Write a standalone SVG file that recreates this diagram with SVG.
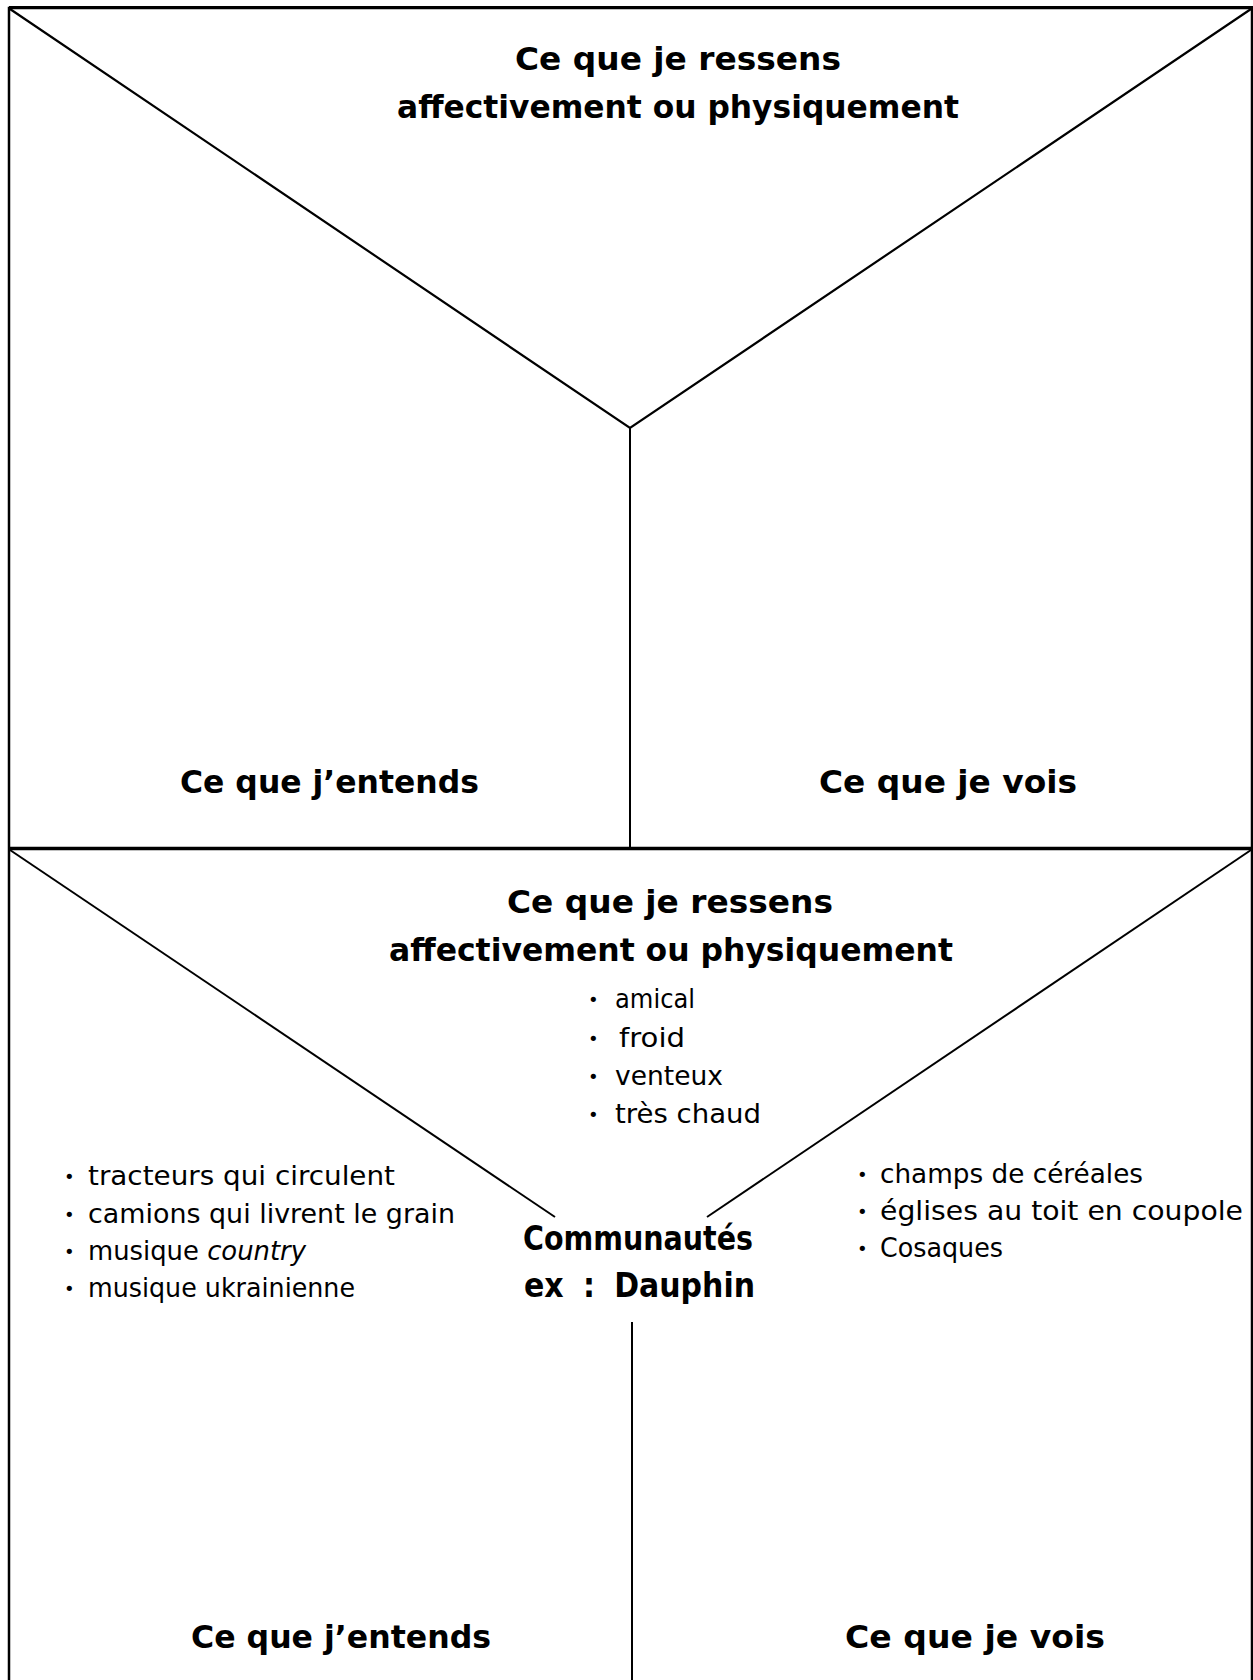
<svg xmlns="http://www.w3.org/2000/svg" width="1253" height="1680" viewBox="0 0 1253 1680">
<style>
.ln{stroke:#000;fill:none;stroke-linecap:butt}
.h{font-family:"DejaVu Sans",sans-serif;font-weight:bold;font-size:32px;fill:#000}
.c{font-family:"DejaVu Sans",sans-serif;font-weight:bold;font-size:34px;fill:#000}
.t{font-family:"DejaVu Sans",sans-serif;font-size:27px;fill:#000}
.b{font-family:"DejaVu Sans",sans-serif;font-size:18px;fill:#000}
</style>
<rect width="1253" height="1680" fill="#fff"/>
<g id="connectors">
<path class="ln" d="M9,1680 V8 H1252 V1680" stroke-width="2.5"/>
<line class="ln" x1="9" y1="7.5" x2="1253" y2="7.5" stroke-width="3"/>
<polyline class="ln" points="10,9 630,428 1251,9" stroke-width="2.2"/>
<line class="ln" x1="630" y1="428" x2="630" y2="847" stroke-width="2"/>
<line class="ln" x1="8" y1="848.5" x2="1253" y2="848.5" stroke-width="3.5"/>
<line class="ln" x1="10" y1="850" x2="555" y2="1217" stroke-width="2"/>
<line class="ln" x1="707" y1="1217" x2="1251" y2="850" stroke-width="2"/>
<line class="ln" x1="632" y1="1322" x2="632" y2="1680" stroke-width="2"/>
</g>
<g id="top-feel">
<text class="h" x="515" y="70" textLength="326" lengthAdjust="spacingAndGlyphs">Ce que je ressens</text>
<text class="h" x="397" y="118" textLength="562" lengthAdjust="spacingAndGlyphs">affectivement ou physiquement</text>
</g>
<g id="top-hear">
<text class="h" x="180" y="793" textLength="299" lengthAdjust="spacingAndGlyphs">Ce que j’entends</text>
</g>
<g id="top-see">
<text class="h" x="819" y="793" textLength="258" lengthAdjust="spacingAndGlyphs">Ce que je vois</text>
</g>
<g id="bottom-feel">
<text class="h" x="507" y="913" textLength="326" lengthAdjust="spacingAndGlyphs">Ce que je ressens</text>
<text class="h" x="389" y="961" textLength="564" lengthAdjust="spacingAndGlyphs">affectivement ou physiquement</text>
<text class="b" x="588" y="1006">•</text>
<text class="t" x="615" y="1008" textLength="80" lengthAdjust="spacingAndGlyphs">amical</text>
<text class="b" x="588" y="1045">•</text>
<text class="t" x="619" y="1047" textLength="66" lengthAdjust="spacingAndGlyphs">froid</text>
<text class="b" x="588" y="1083">•</text>
<text class="t" x="615" y="1085" textLength="108" lengthAdjust="spacingAndGlyphs">venteux</text>
<text class="b" x="588" y="1121">•</text>
<text class="t" x="615" y="1123" textLength="146" lengthAdjust="spacingAndGlyphs">très chaud</text>
</g>
<g id="center">
<text class="c" x="523" y="1250" textLength="230" lengthAdjust="spacingAndGlyphs">Communautés</text>
<text class="c" x="524" y="1297" textLength="231" lengthAdjust="spacingAndGlyphs" word-spacing="10">ex : Dauphin</text>
</g>
<g id="bottom-hear">
<text class="b" x="64" y="1183">•</text>
<text class="t" x="88" y="1185" textLength="307" lengthAdjust="spacingAndGlyphs">tracteurs qui circulent</text>
<text class="b" x="64" y="1221">•</text>
<text class="t" x="88" y="1223" textLength="367" lengthAdjust="spacingAndGlyphs">camions qui livrent le grain</text>
<text class="b" x="64" y="1258">•</text>
<text class="t" x="88" y="1260" textLength="218" lengthAdjust="spacingAndGlyphs">musique <tspan font-style="italic">country</tspan></text>
<text class="b" x="64" y="1295">•</text>
<text class="t" x="88" y="1297" textLength="267" lengthAdjust="spacingAndGlyphs">musique ukrainienne</text>
<text class="h" x="191" y="1648" textLength="300" lengthAdjust="spacingAndGlyphs">Ce que j’entends</text>
</g>
<g id="bottom-see">
<text class="b" x="857" y="1181">•</text>
<text class="t" x="880" y="1183" textLength="263" lengthAdjust="spacingAndGlyphs">champs de céréales</text>
<text class="b" x="857" y="1218">•</text>
<text class="t" x="880" y="1220" textLength="363" lengthAdjust="spacingAndGlyphs">églises au toit en coupole</text>
<text class="b" x="857" y="1255">•</text>
<text class="t" x="880" y="1257" textLength="123" lengthAdjust="spacingAndGlyphs">Cosaques</text>
<text class="h" x="845" y="1648" textLength="260" lengthAdjust="spacingAndGlyphs">Ce que je vois</text>
</g>
</svg>
